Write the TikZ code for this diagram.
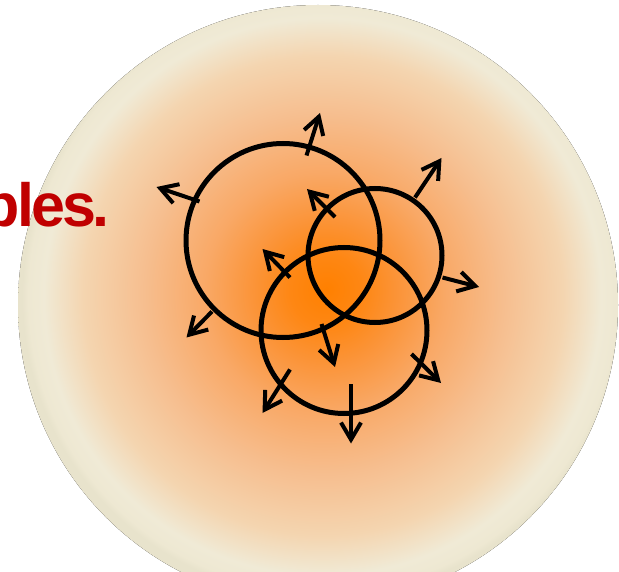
\documentclass[tikz,border=0pt]{standalone}
\usepackage{fontspec}
\setmainfont{Liberation Sans}[BoldFont={Liberation Sans Bold}]
\newfontfamily\titlefont{Liberation Sans Bold}[LetterSpace=-5]
\usetikzlibrary{arrows.meta}
\definecolor{titlered}{RGB}{192,0,0}
\pgfdeclareradialshading{glow}{\pgfpoint{0.7bp}{1.3bp}}{%
  rgb(0bp)=(1,0.502,0);
  rgb(3bp)=(0.996,0.529,0.078);
  rgb(6bp)=(0.984,0.580,0.220);
  rgb(10bp)=(0.976,0.660,0.400);
  rgb(15bp)=(0.965,0.745,0.560);
  rgb(20bp)=(0.957,0.835,0.690);
  rgb(23.2bp)=(0.941,0.918,0.839);
  rgb(24.5bp)=(0.933,0.910,0.824);
  rgb(25bp)=(0.910,0.890,0.800);
  rgb(50bp)=(0.910,0.890,0.800)}
\tikzset{
  ring/.style={line width=5pt, draw=black},
  outarrow/.style={line width=4pt, draw=black, -{Straight Barb[length=17pt,width=20pt]}},
}
\begin{document}
\begin{tikzpicture}[x=1pt,y=-1pt]
\useasboundingbox (0,0) rectangle (619,572);
\fill[white] (0,0) rectangle (619,572);
% big glowing disk
\fill[shading=glow] (318,305) circle (300);
% title text
\node[font=\titlefont\fontsize{61}{61}\selectfont, text=titlered,
      anchor=base east, inner sep=0pt] (title) at (110,227) {bles.};
% circles
\coordinate (cA) at (283,240.5);
\coordinate (cB) at (375,255.5);
\coordinate (cC) at (344,330.5);
\draw[ring] (cA) circle (97);
\draw[ring] (cB) circle (67);
\draw[ring] (cC) circle (83);
% arrow coordinates
\coordinate (a1s) at (306.5,155.5); \coordinate (a1e) at (320,113);
\coordinate (a2s) at (199.5,201.5); \coordinate (a2e) at (156.5,187);
\coordinate (a3s) at (212,311.5);   \coordinate (a3e) at (186.5,337.5);
\coordinate (a4s) at (335,217);     \coordinate (a4e) at (307,189);
\coordinate (a5s) at (415,197.5);   \coordinate (a5e) at (441.5,158);
\coordinate (a6s) at (442.5,277.5); \coordinate (a6e) at (479,287);
\coordinate (a7s) at (290,277.5);   \coordinate (a7e) at (262.5,249);
\coordinate (a8s) at (321.5,324);   \coordinate (a8e) at (335,367);
\coordinate (a9s) at (290,369.5);   \coordinate (a9e) at (262.5,413);
\coordinate (a10s) at (351,384);    \coordinate (a10e) at (351,443.5);
\coordinate (a11s) at (411.5,354);  \coordinate (a11e) at (441,383);
\foreach \i in {1,...,11}{
  \draw[outarrow] (a\i s) -- (a\i e);
}
\end{tikzpicture}
\end{document}
